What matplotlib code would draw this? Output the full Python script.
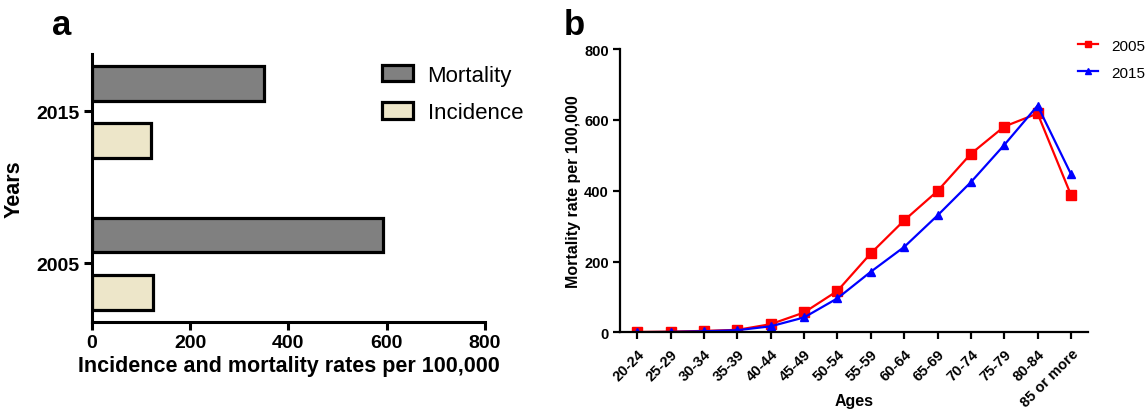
import matplotlib
matplotlib.use("Agg")
import matplotlib.pyplot as plt
from matplotlib.patches import Patch

plt.rcParams['font.family'] = ['Liberation Sans', 'DejaVu Sans']

# ---- data ----
years = ["2005", "2015"]
mortality = [593, 350]
incidence = [124, 120]

age_groups = ["20-24", "25-29", "30-34", "35-39", "40-44", "45-49", "50-54",
              "55-59", "60-64", "65-69", "70-74", "75-79", "80-84", "85 or more"]
rate_2005 = [1, 2, 4, 7, 23, 56, 117, 223, 316, 399, 504, 581, 618, 388]
rate_2015 = [0.5, 1, 3, 6, 17, 42, 96, 171, 241, 330, 424, 529, 640, 447]

fig = plt.figure(figsize=(11.48, 4.10), dpi=100)

# ---- panel a ----
axa = fig.add_axes([0.0799, 0.2129, 0.3426, 0.653])
ypos = list(range(len(years)))
bw = 0.23
axa.barh([y + 0.185 for y in ypos], mortality, height=bw, color='#808080',
         edgecolor='black', linewidth=2.3)
axa.barh([y - 0.195 for y in ypos], incidence, height=bw, color='#ede6c9',
         edgecolor='black', linewidth=2.3)
axa.set_xlim(0, 800)
axa.set_ylim(-0.387, 1.378)
axa.set_xticks([0, 200, 400, 600, 800])
axa.set_yticks(ypos)
axa.set_yticklabels(years)
for s in ['top', 'right']:
    axa.spines[s].set_visible(False)
for s in ['left', 'bottom']:
    axa.spines[s].set_linewidth(2.2)
axa.tick_params(axis='both', width=2.2, length=6, labelsize=14, pad=3)
for lab in axa.get_xticklabels() + axa.get_yticklabels():
    lab.set_fontweight('bold')
axa.set_xlabel("Incidence and mortality rates per 100,000", fontsize=15.5,
               fontweight='bold', labelpad=3)
axa.set_ylabel("Years", fontsize=15.5, fontweight='bold', labelpad=8)
handles_a = [Patch(facecolor='#808080', edgecolor='black', linewidth=2.3, label='Mortality'),
             Patch(facecolor='#ede6c9', edgecolor='black', linewidth=2.3, label='Incidence')]
axa.legend(handles=handles_a, loc='upper left', bbox_to_anchor=(0.738, 0.96),
           frameon=False, fontsize=16, handlelength=1.4, handleheight=0.75,
           handletextpad=0.65, labelspacing=0.75, borderpad=0, borderaxespad=0)
fig.text(0.045, 0.915, "a", fontsize=25, fontweight='bold')

# ---- panel b ----
axb = fig.add_axes([0.540, 0.187, 0.4077, 0.691])
x = list(range(len(age_groups)))
axb.plot(x, rate_2005, color='#ff0000', marker='s', markersize=6.5,
         linewidth=1.6, label='2005')
axb.plot(x, rate_2015, color='#0000ff', marker='^', markersize=6,
         linewidth=1.6, label='2015')
axb.set_xlim(-0.52, 13.51)
axb.set_ylim(0, 800)
axb.set_yticks([0, 200, 400, 600, 800])
axb.set_xticks(x)
axb.set_xticklabels(age_groups, rotation=45, ha='right', rotation_mode='anchor')
for s in ['top', 'right']:
    axb.spines[s].set_visible(False)
for s in ['left', 'bottom']:
    axb.spines[s].set_linewidth(1.6)
axb.tick_params(axis='both', width=1.6, length=5, labelsize=10.5, pad=3)
axb.tick_params(axis='x', pad=5)
for lab in axb.get_xticklabels() + axb.get_yticklabels():
    lab.set_fontweight('bold')
axb.set_xlabel("Ages", fontsize=11.5, fontweight='bold')
axb.xaxis.set_label_coords(0.5, -0.24)
axb.xaxis.label.set_va('center')
axb.set_ylabel("Mortality rate per 100,000", fontsize=11.5, fontweight='bold',
               labelpad=2)
axb.legend(loc='upper left', bbox_to_anchor=(0.9786, 1.037), frameon=False,
           fontsize=11, handlelength=1.3, handletextpad=0.85, labelspacing=0.85,
           markerscale=0.75, borderpad=0, borderaxespad=0)
fig.text(0.491, 0.915, "b", fontsize=25, fontweight='bold')

fig.savefig("out.png", dpi=100)
